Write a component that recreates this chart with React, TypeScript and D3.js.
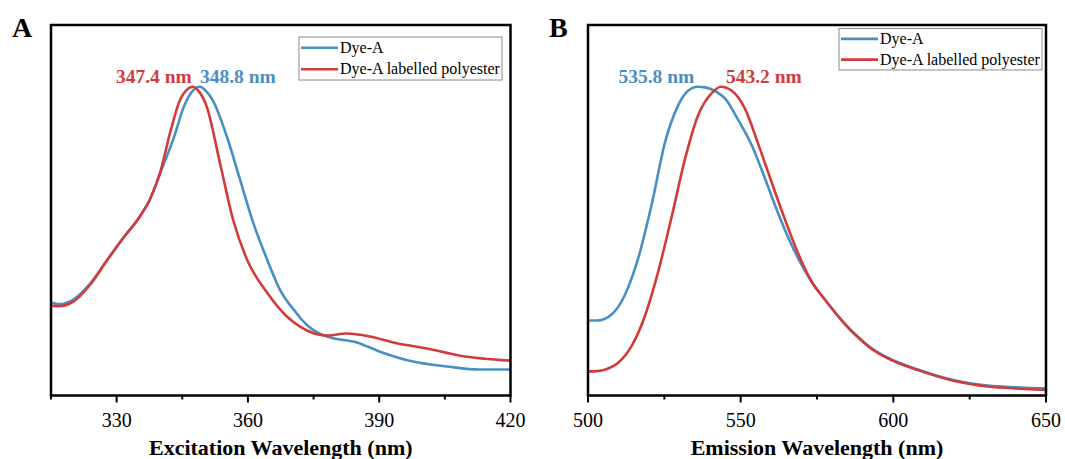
import React from "react";
import * as d3 from "d3";

// excitation spectra (normalised intensity)
const excBlueNm = [315, 317, 320, 323.9, 327.8, 331.5, 335.3, 337.6, 339.9, 343.3, 345.2, 347, 349, 350.5, 352, 355.2, 358.2, 361.2, 364.4, 367.3, 371.2, 372, 378.1, 384.9, 390.2, 397.7, 405.5, 413, 420];
const excBlueVal = [0.301, 0.296, 0.31, 0.362, 0.438, 0.51, 0.58, 0.635, 0.718, 0.845, 0.93, 0.98, 1.0, 0.985, 0.955, 0.838, 0.699, 0.56, 0.44, 0.343, 0.265, 0.25, 0.191, 0.172, 0.142, 0.11, 0.094, 0.084, 0.084];
const excRedNm = [315, 317, 320, 323.9, 327.8, 331.5, 335.3, 337.6, 339.9, 342.4, 344.5, 346, 347.4, 348.8, 350.6, 353.6, 356.6, 359.8, 364.4, 368.9, 371.9, 378.1, 382.6, 387.9, 393.2, 400.9, 408.5, 420];
const excRedVal = [0.291, 0.289, 0.303, 0.358, 0.438, 0.51, 0.58, 0.635, 0.72, 0.861, 0.958, 0.99, 1.0, 0.985, 0.935, 0.754, 0.57, 0.44, 0.333, 0.256, 0.223, 0.194, 0.201, 0.191, 0.172, 0.152, 0.129, 0.113];

// emission spectra
const emBlueNm = [500, 503, 508, 512, 516.4, 521, 525.2, 529.5, 531.8, 535.8, 538.3, 542.6, 545, 549, 553.7, 558, 562.2, 566.8, 573.4, 577, 580, 583, 586, 589, 593, 598, 609, 620, 631, 641.5, 650];
const emBlueVal = [0.243, 0.243, 0.265, 0.324, 0.443, 0.625, 0.819, 0.939, 0.977, 1.0, 0.998, 0.98, 0.961, 0.896, 0.809, 0.702, 0.592, 0.485, 0.366, 0.318, 0.28, 0.245, 0.213, 0.185, 0.152, 0.123, 0.081, 0.049, 0.032, 0.026, 0.023];
const emRedNm = [500, 503, 506, 509.8, 514.4, 518.7, 522.9, 527.5, 531.8, 536, 540.6, 543.5, 547.1, 551.4, 555.6, 560.2, 564.4, 568.7, 573.4, 577, 580, 583, 586, 589, 593, 598, 609, 620, 631, 641.5, 650];
const emRedVal = [0.078, 0.079, 0.085, 0.105, 0.162, 0.259, 0.398, 0.583, 0.767, 0.906, 0.98, 1.0, 0.987, 0.929, 0.819, 0.689, 0.573, 0.463, 0.366, 0.318, 0.28, 0.244, 0.211, 0.183, 0.15, 0.121, 0.079, 0.047, 0.029, 0.022, 0.018];

const excMajor = [330, 360, 390, 420];
const excMinor = [315, 345, 375, 405];
const emMajor = [500, 550, 600, 650];
const emMinor = [525, 575, 625];

const seriesNames = ["Dye-A", "Dye-A labelled polyester"];
const excPeaks = [348.8, 347.4];
const emPeaks = [535.8, 543.2];

const BLUE = "#4a8fc2";
const RED = "#d13b3c";
const FONT = "'Liberation Serif', 'Times New Roman', serif";

const zip = (xs: number[], ys: number[]) => xs.map((x, i) => ({ x, y: ys[i] }));

type PanelProps = {
  letter: string;
  left: number;
  right: number;
  domain: [number, number];
  major: number[];
  minor: number[];
  blue: { x: number; y: number }[];
  red: { x: number; y: number }[];
  peaks: number[];
  title: string;
  legend: { x: number; y: number; h: number };
  blueLabelLeft: boolean;
};

const Panel = (p: PanelProps) => {
  const top = 25;
  const bottom = 395.5;
  const x = d3.scaleLinear().domain(p.domain).range([p.left, p.right]);
  const y = d3.scaleLinear().domain([0, 1.2]).range([bottom, top]);
  const line = d3
    .line<{ x: number; y: number }>()
    .x((d) => x(d.x))
    .y((d) => y(d.y))
    .curve(d3.curveMonotoneX);

  const [bluePeak, redPeak] = p.peaks;
  const labelY = 83;
  const rowGap = p.legend.h / 2;

  return (
    <g>
      <text x={p.left - 39} y={37} fontFamily={FONT} fontWeight="bold" fontSize={28}>
        {p.letter}
      </text>
      <path d={line(p.blue) || ""} fill="none" stroke={BLUE} strokeWidth={2.6} />
      <path d={line(p.red) || ""} fill="none" stroke={RED} strokeWidth={2.6} />

      <rect x={p.left} y={top} width={p.right - p.left} height={bottom - top} fill="none" stroke="#000" strokeWidth={2.5} />

      {p.major.map((t) => (
        <g key={"M" + t}>
          <line x1={x(t)} x2={x(t)} y1={bottom} y2={bottom + 7} stroke="#000" strokeWidth={2} />
          <text x={x(t)} y={427} textAnchor="middle" fontFamily={FONT} fontSize={20}>
            {t}
          </text>
        </g>
      ))}
      {p.minor.map((t) => (
        <line key={"m" + t} x1={x(t)} x2={x(t)} y1={bottom} y2={bottom + 4} stroke="#000" strokeWidth={2} />
      ))}

      <text x={(p.left + p.right) / 2} y={455} textAnchor="middle" fontFamily={FONT} fontWeight="bold" fontSize={22}>
        {p.title}
      </text>

      {p.blueLabelLeft ? (
        <>
          <text x={x(bluePeak) - 3} y={labelY} textAnchor="end" fill={BLUE} fontFamily={FONT} fontWeight="bold" fontSize={19.5}>
            {bluePeak.toFixed(1)} nm
          </text>
          <text x={x(redPeak) + 6} y={labelY} textAnchor="start" fill={RED} fontFamily={FONT} fontWeight="bold" fontSize={19.5}>
            {redPeak.toFixed(1)} nm
          </text>
        </>
      ) : (
        <>
          <text x={x(redPeak) - 1} y={labelY} textAnchor="end" fill={RED} fontFamily={FONT} fontWeight="bold" fontSize={19.5}>
            {redPeak.toFixed(1)} nm
          </text>
          <text x={x(bluePeak) + 1} y={labelY} textAnchor="start" fill={BLUE} fontFamily={FONT} fontWeight="bold" fontSize={19.5}>
            {bluePeak.toFixed(1)} nm
          </text>
        </>
      )}

      <g transform={`translate(${p.legend.x},${p.legend.y})`}>
        <rect x={0} y={0} width={203} height={p.legend.h} fill="#fff" stroke="#8a8a8a" strokeWidth={1} />
        {seriesNames.map((name, i) => (
          <g key={name} transform={`translate(0,${rowGap * 0.5 + i * rowGap})`}>
            <line x1={2} x2={39} y1={0} y2={0} stroke={i === 0 ? BLUE : RED} strokeWidth={2.6} />
            <text x={41} y={5} fontFamily={FONT} fontSize={16}>
              {name}
            </text>
          </g>
        ))}
      </g>
    </g>
  );
};

export default function App() {
  return (
    <svg width={1065} height={459} style={{ position: "absolute", left: 0, top: 0, background: "#fff" }}>
      <rect width={1065} height={459} fill="#fff" />
      <Panel
        letter="A"
        left={51}
        right={510.5}
        domain={[315, 420]}
        major={excMajor}
        minor={excMinor}
        blue={zip(excBlueNm, excBlueVal)}
        red={zip(excRedNm, excRedVal)}
        peaks={excPeaks}
        title="Excitation Wavelength (nm)"
        legend={{ x: 299, y: 37, h: 43 }}
        blueLabelLeft={false}
      />
      <Panel
        letter="B"
        left={588}
        right={1046}
        domain={[500, 650]}
        major={emMajor}
        minor={emMinor}
        blue={zip(emBlueNm, emBlueVal)}
        red={zip(emRedNm, emRedVal)}
        peaks={emPeaks}
        title="Emission Wavelength (nm)"
        legend={{ x: 839, y: 28.5, h: 41.5 }}
        blueLabelLeft={true}
      />
    </svg>
  );
}
